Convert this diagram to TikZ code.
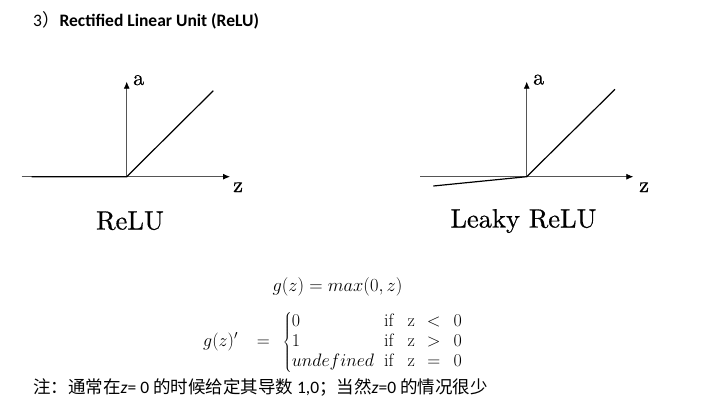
\RequirePackage{fix-cm}
\documentclass[tikz,border=0pt]{standalone}
\usepackage{fontspec}
\usepackage{tikz}
\usetikzlibrary{arrows.meta, positioning}
\newfontfamily\calibri{Carlito}
\newfontfamily\cjk{Noto Sans CJK SC}
\newfontfamily\plotfont{lmroman10-regular.otf}[FakeBold=0.6]
\definecolor{axisgray}{HTML}{555555}

\begin{document}
\begin{tikzpicture}[x=1pt, y=-1pt,
        axis/.style={draw=axisgray, line width=0.8pt,
                     -{Latex[length=7pt, width=6pt, color=black]}},
        func/.style={draw=black, line width=1.2pt},
        axlbl/.style={inner sep=0pt, anchor=base west,
                      font=\plotfont\fontsize{22}{26}\selectfont},
        plotname/.style={inner sep=0pt, anchor=base,
                         font=\plotfont\fontsize{26.5}{30}\selectfont},
        txt/.style={inner sep=0pt, anchor=base west,
                    font=\calibri\fontsize{17.5}{20}\selectfont},
        eq/.style={inner sep=0pt, font=\fontsize{18}{20}\selectfont}
      ]
        \useasboundingbox (0,0) rectangle (706,417);
        % title
        \node[txt] (title) at (33,26.5)
          {3{\cjk ）}\textbf{Rectified Linear Unit (ReLU)}};
        % ReLU
        \coordinate (o1)  at (126.7,176.7);
        \coordinate (xl1) at (21.7,176.7);
        \coordinate (xr1) at (230,176.7);
        \coordinate (yt1) at (126.7,81.7);
        \coordinate (fl1) at (31.7,176.7);
        \coordinate (fr1) at (213.3,90.7);
        \draw[axis] (xl1) -- (xr1);
        \draw[axis] (o1) -- (yt1);
        \draw[func] (fl1) -- (o1) -- (fr1);
        \node[axlbl] (a1) at (133,85) {a};
        \node[axlbl] (z1) at (233,192) {z};
        \node[plotname] (relu) at (130,229.5) {ReLU};
        % Leaky ReLU
        \coordinate (o2)  at (526.7,176.7);
        \coordinate (xl2) at (420,176.7);
        \coordinate (xr2) at (633.3,176.7);
        \coordinate (yt2) at (526.7,81.7);
        \coordinate (fl2) at (433.3,186);
        \coordinate (fr2) at (615,89.3);
        \draw[axis] (xl2) -- (xr2);
        \draw[axis] (o2) -- (yt2);
        \draw[func] (fl2) -- (o2) -- (fr2);
        \node[axlbl] (a2) at (533,84.5) {a};
        \node[axlbl] (z2) at (639,192) {z};
        \node[plotname] (leaky) at (523.5,227.5) {Leaky ReLU};
        % formulas
        \node[eq, anchor=base, font=\fontsize{18.5}{20}\selectfont] (gz)
          at (337.5,291.5) {$g(z) = max(0,z)$};
        \node[eq, anchor=west] (dgz) at (203,342)
          {$g(z)'\hspace{14pt}=\hspace{8pt}\left\{\begin{array}{@{}l@{\hspace{10pt}}l@{\hspace{14pt}}l@{\hspace{12pt}}c@{\hspace{13pt}}l@{}}
              0 & \mathrm{if} & \mathrm{z} & < & 0\\
              1 & \mathrm{if} & \mathrm{z} & > & 0\\
              undefined & \mathrm{if} & \mathrm{z} & = & 0
            \end{array}\right.$};
        % note
        \node[txt] (note) at (33,393.5)
          {{\cjk 注：通常在}\textit{z}= 0 {\cjk 的时候给定其导数} 1,0{\cjk ；当然}\textit{z}=0 {\cjk 的情况很少}};
      \end{tikzpicture}
\end{document}
